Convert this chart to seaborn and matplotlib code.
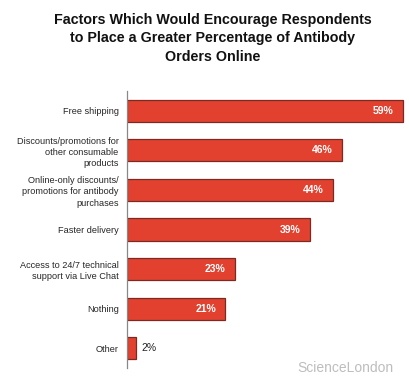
import matplotlib
matplotlib.use("Agg")
import matplotlib.pyplot as plt
import seaborn as sns
import pandas as pd
import numpy as np

# chart data
factors = [
    "Free shipping",
    "Discounts/promotions for\nother consumable\nproducts",
    "Online-only discounts/\npromotions for antibody\npurchases",
    "Faster delivery",
    "Access to 24/7 technical\nsupport via Live Chat",
    "Nothing",
    "Other",
]
percents = [59, 46, 44, 39, 23, 21, 2]
title = ("Factors Which Would Encourage Respondents\n"
         "to Place a Greater Percentage of Antibody\n"
         "Orders Online")

df = pd.DataFrame({"factor": factors, "pct": percents})

sns.set_style("white")
plt.rcParams["font.family"] = ["Liberation Sans", "DejaVu Sans"]

fig = plt.figure(figsize=(4.09, 3.89), dpi=100)
ax = fig.add_axes([127 / 409, 1 - 368 / 389, 281 / 409, 277 / 389])

sns.barplot(data=df, x="pct", y="factor", orient="h", color="#E2412F",
            edgecolor="#7A2A22", linewidth=0.9, width=0.56, saturation=1, ax=ax)

ax.set_xlim(0, 60)
ax.set_ylim(len(factors) - 0.5, -0.5)
ax.set_xlabel("")
ax.set_ylabel("")
ax.set_xticks([])

# labels as text, ticks on category boundaries
ax.set_yticks(range(len(factors)))
ax.set_yticklabels(factors, fontsize=6.6, linespacing=1.3)
ax.tick_params(axis="y", which="major", length=0, pad=6)
ax.set_yticks(np.arange(-0.5, len(factors), 1), minor=True)
ax.tick_params(axis="y", which="minor", length=3, width=0.8, color="#888888",
               direction="out")

for s in ["top", "right", "bottom"]:
    ax.spines[s].set_visible(False)
ax.spines["left"].set_color("#888888")
ax.spines["left"].set_linewidth(0.9)

for i, v in enumerate(percents):
    if v > 5:
        ax.text(v - 2.0, i, f"{v}%", ha="right", va="center", color="white",
                fontsize=7.5, fontweight="bold")
    else:
        ax.text(v + 1.0, i, f"{v}%", ha="left", va="center", color="#222222",
                fontsize=7.5)

fig.text(213 / 409, 1 - 13 / 389, title, ha="center", va="top", fontsize=10.3,
         fontweight="bold", linespacing=1.4, color="#111111")

fig.text(297 / 409, 1 - 368 / 389, "ScienceLondon", ha="left", va="center",
         fontsize=10, color="#BDBDBD")

fig.savefig("out.png", dpi=100, facecolor="white")
